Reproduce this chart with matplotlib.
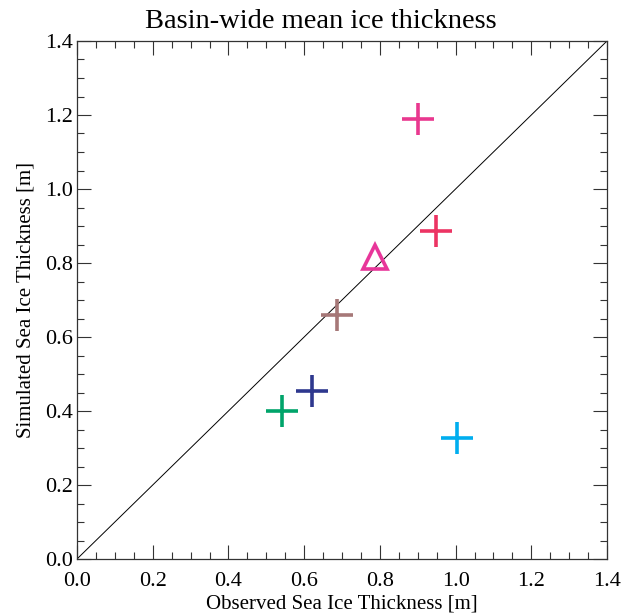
import numpy as np
import matplotlib
matplotlib.use('Agg')
import matplotlib.pyplot as plt
from matplotlib.ticker import MultipleLocator

plt.rcParams['font.family'] = ['Liberation Serif', 'DejaVu Serif']
plt.rcParams['mathtext.fontset'] = 'stix'

# observed vs simulated basin-wide mean thickness
obs = [0.901, 0.947, 0.687, 0.620, 0.541, 1.005]
sim = [1.188, 0.887, 0.660, 0.455, 0.400, 0.328]
cols = ['#E9388F', '#EC3463', '#A67878', '#2E388E', '#00A46A', '#00AEEF']
tri_obs = [0.787]
tri_sim = [0.816]
tri_col = '#E8369A'

fig = plt.figure(figsize=(6.23, 6.13), dpi=100)
ax = fig.add_axes([77/623, 54/613, 530/623, 518/613])

ax.plot([0, 1.4], [0, 1.4], c='k', lw=0.7)
for x, y, c in zip(obs, sim, cols):
    ax.plot(x, y, '+', c=c, ms=23, mew=2.6)
ax.plot(tri_obs, tri_sim, '^', mfc='none', mec=tri_col, ms=17, mew=2.6)

ax.set_xlim(0, 1.4)
ax.set_ylim(0, 1.4)
ax.xaxis.set_major_locator(MultipleLocator(0.2))
ax.yaxis.set_major_locator(MultipleLocator(0.2))
ax.xaxis.set_minor_locator(MultipleLocator(0.05))
ax.yaxis.set_minor_locator(MultipleLocator(0.05))
ax.xaxis.set_major_formatter(plt.FuncFormatter(lambda v, p: '%.1f' % v))
ax.yaxis.set_major_formatter(plt.FuncFormatter(lambda v, p: '%.1f' % v))
ax.tick_params(which='both', direction='in', top=True, right=True, labelsize=16, width=0.8, color='#333333')
ax.tick_params(which='major', length=10)
ax.tick_params(axis='x', which='major', pad=9)
ax.tick_params(axis='y', which='major', pad=3)
ax.tick_params(which='minor', length=5)
for s in ax.spines.values():
    s.set_linewidth(0.9)
    s.set_color('#333333')

ax.set_title('Basin-wide mean ice thickness', fontsize=20.5, pad=9, x=0.46)
ax.set_xlabel('Observed Sea Ice Thickness [m]', fontsize=15, labelpad=3)
ax.set_ylabel('Simulated Sea Ice Thickness [m]', fontsize=15, labelpad=7)

plt.savefig('out.png', dpi=100)
